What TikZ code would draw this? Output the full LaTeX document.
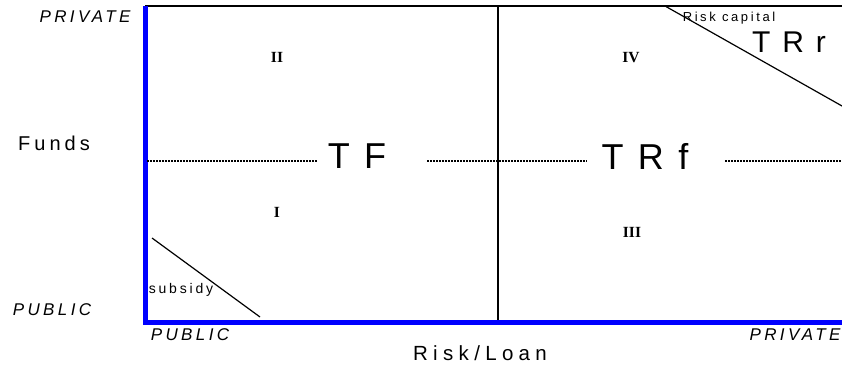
\documentclass[tikz,border=0pt]{standalone}
\usepackage{fontspec}
\setmainfont{Liberation Sans}
\newfontfamily\spacedfont[LetterSpace=20]{Liberation Sans}
\newfontfamily\widefont[LetterSpace=26]{Liberation Sans}
\newfontfamily\bigfont[LetterSpace=12]{Liberation Sans}
\newfontfamily\numfont{Liberation Serif}
\usetikzlibrary{positioning}

\begin{document}
\begin{tikzpicture}[
    x=1pt, y=-1pt,
    axislabel/.style={
        inner sep=0pt,
        font=\spacedfont\itshape\fontsize{17}{20}\selectfont
    },
    titlelabel/.style={
        inner sep=0pt,
        font=\spacedfont\fontsize{20}{24}\selectfont
    },
    smalllabel/.style={
        inner sep=0pt,
        font=\spacedfont\fontsize{13}{15}\selectfont
    },
    biglabel/.style={
        inner sep=0pt,
        font=\bigfont\fontsize{36}{40}\selectfont
    },
    quadrant/.style={
        inner sep=0pt,
        font=\numfont\bfseries\fontsize{15.5}{18}\selectfont
    },
    axisline/.style={
        draw=blue,
        line width=5pt
    },
    thinline/.style={
        draw=black,
        line width=1.5pt
    },
    dotline/.style={
        draw=black,
        line width=2pt,
        dash pattern=on 2pt off 1pt
    }
]
\useasboundingbox (0,0) rectangle (842,366);

% === Frame and axes ===
\coordinate (ytop) at (145,6);
\coordinate (xend) at (842,322);
\coordinate (topright) at (842,6);
\coordinate (midtop) at (498,6);
\coordinate (midbot) at (498,322);
\draw[thinline] (ytop) -- (topright);
\draw[thinline] (midtop) -- (midbot);
\draw[axisline] (ytop) |- (xend);

% === Boundary lines ===
\coordinate (rcstart) at (665,6);
\coordinate (rcend) at (842,106);
\coordinate (substart) at (152,238);
\coordinate (subend) at (260,317);
\draw[thinline, line width=1.2pt] (rcstart) -- (rcend);
\draw[thinline, line width=1.2pt] (substart) -- (subend);

% === Dotted separation line ===
\coordinate (d1) at (147,161);
\coordinate (d2) at (317,161);
\coordinate (d3) at (427,161);
\coordinate (d4) at (587,161);
\coordinate (d5) at (725,161);
\coordinate (d6) at (842,161);
\draw[dotline] (d1) -- (d2);
\draw[dotline] (d3) -- (d4);
\draw[dotline] (d5) -- (d6);

% === Region labels ===
\node[biglabel] (tf) at (357,156) {T F};
\node[biglabel] (trf) at (645,156) {T R f};
\node[biglabel, font=\bigfont\fontsize{30}{34}\selectfont] (trr) at (789,42) {T R r};
\node[smalllabel] (riskcap) at (729,18) {Risk capital};
\node[smalllabel, font=\spacedfont\fontsize{14}{16}\selectfont] (subsidy) at (181,290) {subsidy};

% === Quadrant numbers ===
\node[quadrant] (q2) at (277,57) {II};
\node[quadrant] (q4) at (631,58) {IV};
\node[quadrant] (q1) at (277,212) {I};
\node[quadrant] (q3) at (632,232) {III};

% === Axis labels ===
\node[axislabel] (yprivate) at (85,17) {PRIVATE};
\node[titlelabel] (funds) at (54,143) {Funds};
\node[axislabel] (ypublic) at (52,310) {PUBLIC};
\node[axislabel] (xpublic) at (190,335) {PUBLIC};
\node[axislabel] (xprivate) at (795,335) {PRIVATE};
\node[titlelabel, font=\widefont\fontsize{20.5}{24}\selectfont] (riskloan) at (480,353) {Risk/Loan};

\end{tikzpicture}
\end{document}
